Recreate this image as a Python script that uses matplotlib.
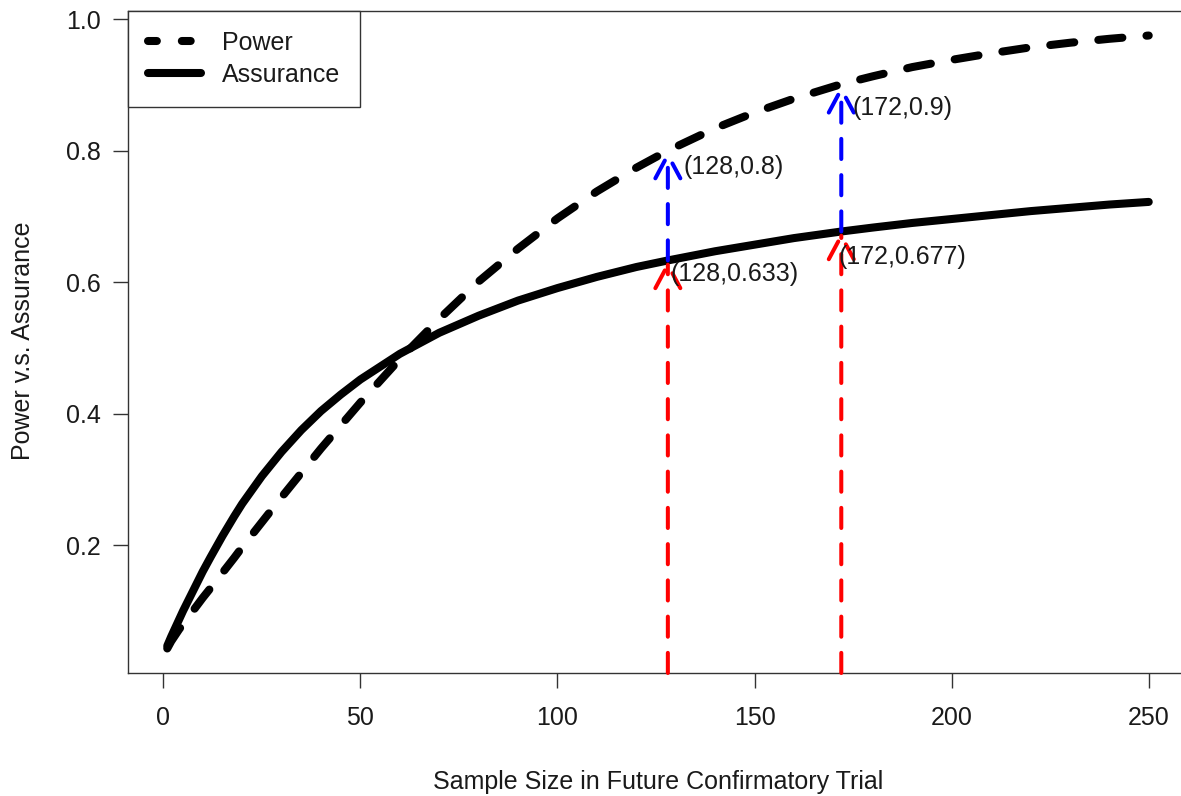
import matplotlib
matplotlib.use("Agg")
import matplotlib.pyplot as plt
from matplotlib.lines import Line2D

plt.rcParams['font.family'] = ['Liberation Sans', 'DejaVu Sans']

# sample size in the future trial and the two curves
sampleSize = [1, 2, 3, 4, 5, 6, 8, 10, 12, 15, 18, 20, 25, 30, 35, 40, 45,
              50, 60, 70, 80, 90, 100, 110, 120, 128, 140, 150, 160, 172,
              180, 190, 200, 210, 220, 230, 240, 250]
power = [0.043, 0.054, 0.063, 0.072, 0.080, 0.088, 0.104, 0.120, 0.135,
         0.158, 0.181, 0.197, 0.235, 0.273, 0.310, 0.347, 0.382, 0.417,
         0.483, 0.544, 0.601, 0.651, 0.697, 0.738, 0.774, 0.800, 0.834,
         0.858, 0.879, 0.901, 0.913, 0.927, 0.938, 0.948, 0.957, 0.964,
         0.970, 0.975]
assurance = [0.047, 0.061, 0.074, 0.087, 0.100, 0.112, 0.136, 0.160, 0.182,
             0.214, 0.244, 0.263, 0.305, 0.342, 0.375, 0.404, 0.429, 0.452,
             0.491, 0.523, 0.549, 0.572, 0.591, 0.608, 0.623, 0.633, 0.647,
             0.657, 0.667, 0.677, 0.683, 0.690, 0.696, 0.702, 0.708, 0.713,
             0.718, 0.722]

# marked sample sizes
markN = [128, 172]
markPower = [0.8, 0.9]
markAssurance = [0.633, 0.677]

textColor = '#1a1a1a'
fs = 18

fig = plt.figure(figsize=(11.81, 7.96), dpi=100)
ax = fig.add_axes([128 / 1181, 123 / 796, 1060 / 1181, 662 / 796])

# R style axis ranges (4% padding)
xr = max(sampleSize) - min(sampleSize)
ax.set_xlim(min(sampleSize) - 0.04 * xr, max(sampleSize) + 0.04 * xr)
lo = min(min(power), min(assurance))
hi = max(max(power), max(assurance))
yr = hi - lo
ax.set_ylim(lo - 0.04 * yr, hi + 0.04 * yr)
yBottom = ax.get_ylim()[0]

ax.plot(sampleSize, power, color='black', lw=5.8, dashes=(3.0, 3.0),
        dash_capstyle='round', solid_capstyle='round')
ax.plot(sampleSize, assurance, color='black', lw=5.8,
        solid_capstyle='round', solid_joinstyle='round')

arrowStyle = '->,head_length=0.45,head_width=0.24'
for n, p, a in zip(markN, markPower, markAssurance):
    # red: from the bottom up to assurance, blue: assurance up to power
    ax.annotate('', xy=(n, a), xytext=(n, yBottom),
                arrowprops=dict(arrowstyle=arrowStyle, mutation_scale=37.5,
                                lw=2.9, color='#ff0000', linestyle=(0, (5.0, 4.0)),
                                shrinkA=0, shrinkB=0, capstyle='round'))
    ax.annotate('', xy=(n, p), xytext=(n, a),
                arrowprops=dict(arrowstyle=arrowStyle, mutation_scale=37.5,
                                lw=2.9, color='#0000ff', linestyle=(0, (5.0, 4.0)),
                                shrinkA=0, shrinkB=0, capstyle='round'))

# label offsets in points
powerOffsets = [(11.5, -11.5), (7.9, -16.6)]
assuranceOffsets = [(2.2, -10.0), (-2.2, -18.0)]
for i in range(len(markN)):
    ax.annotate('(%d,%g)' % (markN[i], markPower[i]), xy=(markN[i], markPower[i]),
                xytext=powerOffsets[i], textcoords='offset points',
                ha='left', va='center', fontsize=fs, color=textColor)
    ax.annotate('(%d,%g)' % (markN[i], markAssurance[i]), xy=(markN[i], markAssurance[i]),
                xytext=assuranceOffsets[i], textcoords='offset points',
                ha='left', va='center', fontsize=fs, color=textColor)

ax.set_xticks([0, 50, 100, 150, 200, 250])
ax.set_yticks([0.2, 0.4, 0.6, 0.8, 1.0])
ax.set_yticklabels(['0.2', '0.4', '0.6', '0.8', '1.0'])
ax.tick_params(axis='both', direction='out', length=10.8, width=1.0,
               color='#333333', labelsize=fs, labelcolor=textColor)
ax.tick_params(axis='x', pad=13)
ax.tick_params(axis='y', pad=9)
for s in ax.spines.values():
    s.set_color('#333333')
    s.set_linewidth(1.0)

fig.text(658.5 / 1181, 1 - 782 / 796, 'Sample Size in Future Confirmatory Trial',
         ha='center', va='center', fontsize=fs, color=textColor)
fig.text(23 / 1181, 1 - 341 / 796, 'Power v.s. Assurance', rotation=90,
         ha='center', va='center', fontsize=fs, color=textColor)

handles = [Line2D([], [], color='black', lw=5.8, dashes=(1.1, 3.1),
                  dash_capstyle='round'),
           Line2D([], [], color='black', lw=5.8, solid_capstyle='round')]
leg = ax.legend(handles, ['Power', 'Assurance'], loc='upper left',
                borderaxespad=0, fontsize=fs, handlelength=2.1,
                handletextpad=0.85, borderpad=0.8, labelspacing=0.3,
                fancybox=False, framealpha=1, edgecolor='#333333')
leg.get_frame().set_linewidth(1.0)
for t in leg.get_texts():
    t.set_color(textColor)

fig.savefig('out.png', dpi=100)
